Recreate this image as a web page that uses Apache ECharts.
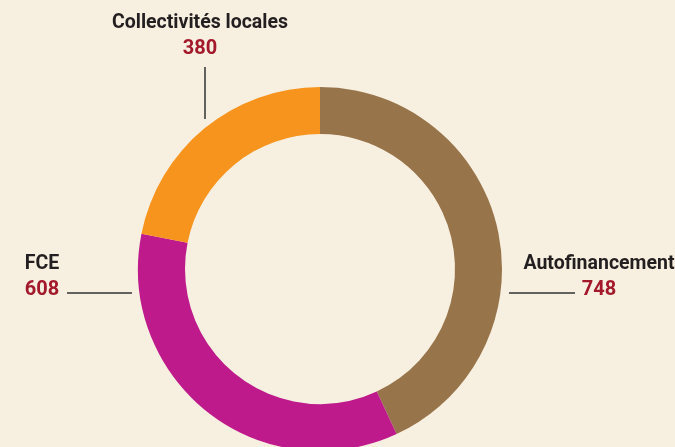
<!DOCTYPE html>
<html>
<head>
<meta charset="utf-8">
<script src="https://cdn.jsdelivr.net/npm/echarts@6/dist/echarts.min.js"></script>
<style>
html,body{margin:0;padding:0;background:#F7EFE0;}
#c{width:675px;height:447px;}
</style>
</head>
<body>
<div id="c"></div>
<script>
const categories = ['Autofinancement', 'FCE', 'Collectivités locales'];
const values = [748, 608, 380];
const colors = ['#98744A', '#BE1A8C', '#F7941E'];

// label placement (text centre and leader line) per category
const labelPos = {
  'Autofinancement': {x: 599, y: 277, line: [[509, 293], [575, 293]]},
  'FCE': {x: 42, y: 277, line: [[132, 293], [67, 293]]},
  'Collectivités locales': {x: 200, y: 36, line: [[205, 119], [205, 67]]}
};

const chart = echarts.init(document.getElementById('c'));
const font = 'Roboto, "Liberation Sans Narrow", sans-serif';
chart.setOption({
  backgroundColor: '#F7EFE0',
  animation: false,
  series: [{
    type: 'pie',
    center: [320, 269],
    radius: [135, 182],
    startAngle: 90,
    clockwise: true,
    data: categories.map((c, i) => ({name: c, value: values[i], itemStyle: {color: colors[i]}})),
    label: {
      show: true,
      overflow: 'none',
      formatter: p => '{n|' + p.name + '}\n{v|' + p.value + '}',
      align: 'center',
      rich: {
        n: {fontFamily: font, fontWeight: 'bold', fontSize: 19.5, color: '#231F20', lineHeight: 26, align: 'center'},
        v: {fontFamily: font, fontWeight: 'bold', fontSize: 20, color: '#A3182A', lineHeight: 26, align: 'center'}
      }
    },
    labelLine: {show: true, lineStyle: {color: '#333333', width: 1.5}},
    labelLayout: function (params) {
      const name = categories[params.dataIndex];
      const p = labelPos[name];
      return {
        x: p.x, y: p.y, align: 'center', verticalAlign: 'middle',
        width: 300,
        labelLinePoints: p.line
      };
    },
    emphasis: {disabled: true}
  }]
});
</script>
</body>
</html>
